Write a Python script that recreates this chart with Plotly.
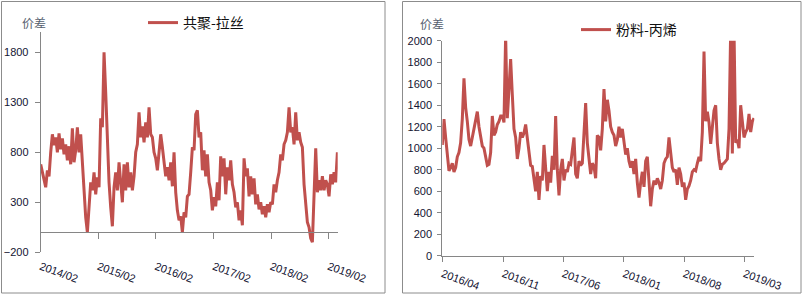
import plotly.graph_objects as go
import pandas as pd

W, H = 805, 296

# ---------------- data: left chart (共聚-拉丝) ----------------
left_name = "共聚-拉丝"
left_start, left_end = "2014-02-01", "2019-03-28"
left_values = [
    680, 600, 520, 450, 620, 560, 800, 980, 870, 950, 800, 990, 830, 940, 780, 880, 720, 860, 680, 1040,
    700, 820, 1050, 800, 980, 700, 420, 150, 0, 250, 500, 420, 600, 380, 550, 450, 1140, 1050, 1800, 1400,
    900, 500, 250, 60, 450, 600, 420, 700, 500, 300, 680, 420, 700, 450, 600, 420, 560, 800, 880, 1200,
    950, 1060, 900, 1100, 950, 1250, 980, 950, 800, 740, 620, 800, 980, 850, 720, 560, 650, 520, 700, 460,
    800, 400, 220, 120, 160, 0, 200, 150, 360,
    380, 600, 850, 820, 1180, 1220, 950, 1000, 620, 820, 560, 780, 500, 420, 220, 350, 260, 500, 320, 760,
    560, 740, 380, 650, 520, 720, 480, 400, 250, 300, 120, 220, 70, 740, 560, 640, 360, 560, 380, 540,
    280, 380, 230, 300, 180, 260, 150, 280, 200, 300, 280, 480, 400, 520, 600, 780, 720, 880, 920, 1000,
    1250, 1000, 1050, 880, 1200, 920, 1000, 900, 850, 480, 250, 100, 50, -60, -100, 300, 840, 400, 520, 420,
    560, 420, 520, 480, 360, 580, 480, 600, 500, 800,
]
left_ticks = ["2014-02-01", "2015-02-01", "2016-02-01", "2017-02-01", "2018-02-01", "2019-02-01"]
left_yticks = [-200, 300, 800, 1300, 1800]

# ---------------- data: right chart (粉料-丙烯) ----------------
right_name = "粉料-丙烯"
right_start, right_end = "2016-04-01", "2019-04-04"
right_values = [
    1030, 1270, 1100, 900, 790, 820, 860, 780, 820, 920, 960, 1050, 1270, 1650, 1380, 1250, 1080, 1020, 1100, 1180,
    1250, 1340, 1200, 1120, 1020, 1000, 930, 840, 850, 960, 1300, 1120, 1150, 1220, 1250, 1300, 1300, 1240, 2050, 1280,
    1550, 1830, 1500, 1180, 1100, 900, 1000, 1150, 1100, 1140, 1220, 1100, 980, 840, 830, 720, 600, 780, 520, 740,
    700, 1030, 850, 600, 780, 680, 930, 800, 1300, 800, 560, 800, 900, 700, 800, 780, 860, 850, 980, 1100,
    760, 720, 880, 840, 860, 1100, 1420, 1050, 880, 760, 860, 830, 720, 1120,
    1100, 980, 1180, 1550, 1250, 1450, 1350, 1200, 1150, 1120, 1020, 1080, 1200, 1100, 1180, 1040, 940, 1000, 880, 820,
    880, 760, 900, 680, 540, 680, 780, 640, 880, 920, 720, 460, 620, 700, 660, 720, 680, 620, 700, 860,
    900, 920, 1100, 940, 820, 780, 800, 660, 820, 760, 640, 680, 520, 620, 650, 700, 780, 800, 790, 860,
    920, 880, 1150, 1900, 1250, 1340, 1240, 1040, 1200, 1350, 1400, 1050, 900, 800, 850, 860, 880, 900, 1180, 2100,
    950, 2100, 1050, 1080, 1000, 1400, 1250, 1100, 1150, 1180, 1320, 1150, 1250, 1280,
]
right_ticks = ["2016-04-01", "2016-11-01", "2017-06-01", "2018-01-01", "2018-08-01", "2019-03-01"]

left_dates = pd.date_range(left_start, left_end, periods=len(left_values))
right_dates = pd.date_range(right_start, right_end, periods=len(right_values))

RED = "#C0504D"
AXIS = "#868686"
TXT = "#141432"
NUMFONT = "Liberation Sans, Arial, sans-serif"
CJK = "Noto Sans CJK SC, sans-serif"


def px(x):
    return x / W


def py(y):
    return 1 - y / H


fig = go.Figure()
fig.add_trace(go.Scatter(x=left_dates, y=left_values, mode="lines", name=left_name,
                         line=dict(color=RED, width=3), xaxis="x", yaxis="y", legend="legend"))
fig.add_trace(go.Scatter(x=right_dates, y=right_values, mode="lines", name=right_name,
                         line=dict(color=RED, width=3), xaxis="x2", yaxis="y2", legend="legend2"))

# left plot geometry
L_x0, L_x1, L_ytop, L_ybot = 40.7, 337.7, 32.3, 252.3
L_ymin, L_ymax = -200, 2000
zero_y = L_ybot - (0 - L_ymin) / (L_ymax - L_ymin) * (L_ybot - L_ytop)

# right plot geometry
R_x0, R_x1, R_ytop, R_ybot = 442.3, 754.3, 40.7, 255.7

fig.update_layout(
    width=W, height=H,
    margin=dict(l=0, r=0, t=0, b=0, autoexpand=False),
    paper_bgcolor="white", plot_bgcolor="white",
    showlegend=True,
    xaxis=dict(
        domain=[px(L_x0), px(L_x1)], anchor="free", position=py(zero_y), automargin=False,
        range=["2014-02-01", "2019-03-30"], type="date",
        tickvals=left_ticks, tickformat="%Y/%m", tickangle=20,
        ticks="outside", ticklen=6, tickcolor=AXIS, ticklabelstandoff=17,
        showline=True, linecolor=AXIS, linewidth=1, showgrid=False, zeroline=False,
        tickfont=dict(family=NUMFONT, size=11, color=TXT),
    ),
    yaxis=dict(
        domain=[py(L_ybot), py(L_ytop)], anchor="x", range=[L_ymin, L_ymax], automargin=False,
        tickvals=left_yticks, ticks="outside", ticklen=5, tickcolor=AXIS, ticklabelstandoff=4,
        showline=True, linecolor=AXIS, linewidth=1, showgrid=False, zeroline=False,
        tickfont=dict(family=NUMFONT, size=11, color=TXT),
    ),
    xaxis2=dict(
        domain=[px(R_x0), px(R_x1)], anchor="y2", automargin=False,
        range=["2016-04-01", "2019-04-05"], type="date",
        tickvals=right_ticks, tickformat="%Y/%m", tickangle=20,
        ticks="outside", ticklen=5, tickcolor=AXIS, ticklabelstandoff=2,
        showline=True, linecolor=AXIS, linewidth=1, showgrid=False, zeroline=False,
        tickfont=dict(family=NUMFONT, size=11, color=TXT),
    ),
    yaxis2=dict(
        domain=[py(R_ybot), py(R_ytop)], anchor="x2", range=[0, 2000], dtick=200, automargin=False,
        ticks="outside", ticklen=4, tickcolor=AXIS, ticklabelstandoff=3,
        showline=True, linecolor=AXIS, linewidth=1, showgrid=False, zeroline=False,
        tickfont=dict(family=NUMFONT, size=11, color=TXT),
    ),
    legend=dict(x=px(143), y=py(23), xanchor="left", yanchor="middle",
                bgcolor="rgba(0,0,0,0)", font=dict(family=CJK, size=14, color="#111111")),
    legend2=dict(x=px(576), y=py(30), xanchor="left", yanchor="middle",
                 bgcolor="rgba(0,0,0,0)", font=dict(family=CJK, size=14, color="#111111")),
    shapes=[
        dict(type="rect", xref="paper", yref="paper", x0=px(1.5), x1=px(385), y0=py(293), y1=py(1.5),
             line=dict(color="#8c8c8c", width=1)),
        dict(type="rect", xref="paper", yref="paper", x0=px(402.5), x1=px(801), y0=py(293), y1=py(1.5),
             line=dict(color="#8c8c8c", width=1)),
    ],
    annotations=[
        dict(text="价差", xref="paper", yref="paper", x=px(33.5), y=py(22), showarrow=False,
             xanchor="center", yanchor="middle", font=dict(family=CJK, size=12, color="#55606e")),
        dict(text="价差", xref="paper", yref="paper", x=px(431.5), y=py(23), showarrow=False,
             xanchor="center", yanchor="middle", font=dict(family=CJK, size=12, color="#55606e")),
    ],
)

fig.write_html("out.html")
